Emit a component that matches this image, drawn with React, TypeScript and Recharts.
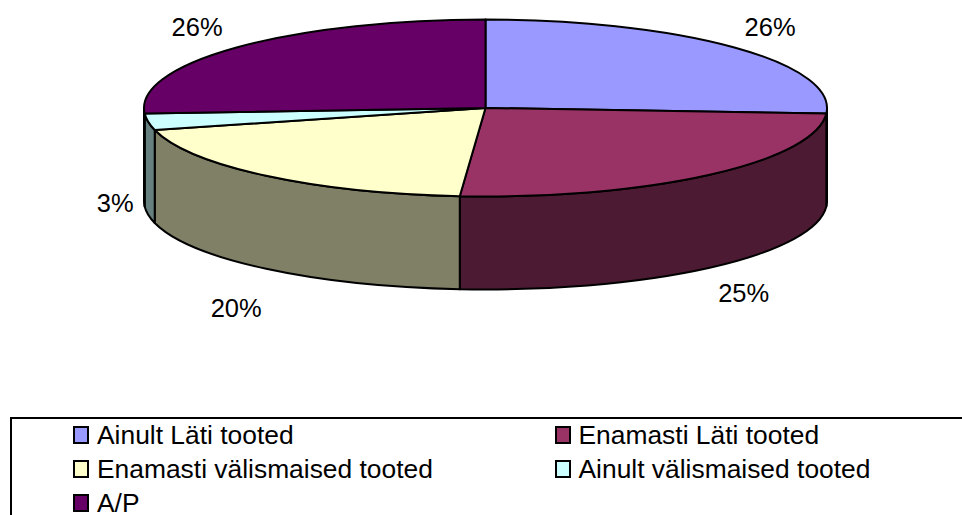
import { PieChart, Pie, Legend } from "recharts";

const categories = [
  "Ainult Läti tooted",
  "Enamasti Läti tooted",
  "Enamasti välismaised tooted",
  "Ainult välismaised tooted",
  "A/P",
];
const shares = [26, 25.2, 19.8, 3, 26];
const topColors = ["#9999ff", "#993366", "#ffffcc", "#ccffff", "#660066"];
const sideColors = ["#4d4d80", "#4c1a33", "#808066", "#668080", "#330033"];

const chartData = categories.map((name, i) => ({
  name,
  value: shares[i],
  fill: topColors[i],
  side: sideColors[i],
}));

const FONT = '"Liberation Sans", Arial, sans-serif';
const CX = 485.5;
const CY = 108;
const RX = 341.5;
const RY = 88.5;
const DEPTH = 93;
const RAD = Math.PI / 180;

// label position relative to the rim of the slice
const labelOffsets = [
  [35.6, -20.4],
  [34, 25],
  [-30, 39],
  [-33, -12],
  [-39.5, -20.4],
];

const rim = (deg: number, dy = 0) => [
  CX + RX * Math.cos(deg * RAD),
  CY - RY * Math.sin(deg * RAD) + dy,
];

// the library only gives circular sectors, so squash them into a tilted disc
const DiscSlice = (props: any) => {
  const { startAngle, endAngle, fill, side } = props;
  const [sx, sy] = rim(startAngle);
  const [ex, ey] = rim(endAngle);
  const large = startAngle - endAngle > 180 ? 1 : 0;
  const top = `M${CX},${CY} L${sx},${sy} A${RX},${RY} 0 ${large} 1 ${ex},${ey} Z`;

  // only the front half of the rim shows a wall
  const from = Math.min(startAngle, 0);
  const to = Math.max(endAngle, -180);
  let wall = null;
  if (from > to) {
    const [ax, ay] = rim(from);
    const [bx, by] = rim(to);
    wall = `M${ax},${ay} A${RX},${RY} 0 0 1 ${bx},${by} L${bx},${by + DEPTH} A${RX},${RY} 0 0 0 ${ax},${ay + DEPTH} Z`;
  }
  return (
    <g>
      {wall && <path d={wall} fill={side} stroke="#000" strokeWidth={2} strokeLinejoin="round" />}
      <path d={top} fill={fill} stroke="#000" strokeWidth={2} strokeLinejoin="round" />
    </g>
  );
};

const renderLabel = (props: any) => {
  const { midAngle, index, value } = props;
  const front = Math.sin(midAngle * RAD) < 0 || midAngle > 90;
  const [x, y] = rim(midAngle, front ? DEPTH : 0);
  const [dx, dy] = labelOffsets[index];
  return (
    <text
      x={x + dx}
      y={y + dy}
      textAnchor="middle"
      dominantBaseline="central"
      fontFamily={FONT}
      fontSize={25.5}
      fill="#000"
    >
      {Math.round(value)}%
    </text>
  );
};

const LegendBox = ({ payload }: any) => (
  <div
    style={{
      boxSizing: "border-box",
      width: 990,
      height: 130,
      border: "2px solid #000",
      display: "grid",
      gridTemplateColumns: "481.5px 1fr",
      gridAutoRows: "34px",
      paddingLeft: 61,
      marginTop: 0,
      fontFamily: FONT,
      fontSize: 26.4,
      color: "#000",
    }}
  >
    {(payload || []).map((item: any) => (
      <div
        key={item.value}
        style={{
          display: "flex",
          alignItems: "center",
          alignSelf: "center",
          whiteSpace: "nowrap",
          lineHeight: "24px",
          position: "relative",
          top: -1,
        }}
      >
        <span
          style={{
            boxSizing: "border-box",
            width: 16,
            height: 18,
            border: "2px solid #000",
            background: item.payload?.fill ?? item.color,
            marginRight: 8,
            flex: "none",
          }}
        />
        {item.value}
      </div>
    ))}
  </div>
);

export default function App() {
  return (
    <div style={{ position: "absolute", left: 0, top: 0, width: 962, height: 515, overflow: "hidden", background: "#fff" }}>
      <PieChart width={962} height={515} margin={{ top: 0, right: 0, bottom: 0, left: 0 }}>
        <Pie
          data={chartData}
          dataKey="value"
          nameKey="name"
          cx={CX}
          cy={CY}
          outerRadius={RX}
          startAngle={90}
          endAngle={-270}
          stroke="#000"
          shape={DiscSlice}
          label={renderLabel}
          labelLine={false}
          isAnimationActive={false}
        />
        <Legend
          content={LegendBox}
          itemSorter={null}
          wrapperStyle={{ position: "absolute", left: 10, top: 417, width: 990, height: 130, margin: 0 }}
        />
      </PieChart>
    </div>
  );
}
